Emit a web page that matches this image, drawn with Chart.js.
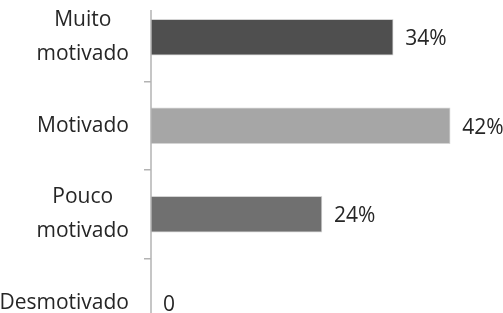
<!DOCTYPE html>
<html>
<head>
<meta charset="utf-8">
<script src="https://cdn.jsdelivr.net/npm/chart.js"></script>
<style>
  html, body { margin: 0; padding: 0; background: #fff; overflow: hidden; }
  body { width: 503px; height: 313px; position: relative; }
  #wrap { position: absolute; left: 0; top: -7px; width: 503px; height: 354px; }
</style>
</head>
<body>
<div id="wrap"><canvas id="chart"></canvas></div>
<script>
const categories = [['Muito', 'motivado'], ['Motivado'], ['Pouco', 'motivado'], ['Desmotivado']];
const values = [34, 42, 24, 0];
const valueLabels = ['34%', '42%', '24%', '0'];
const barColors = ['#4f4f4f', '#a6a6a6', '#707070', '#707070'];

const textColor = '#262626';
const axisColor = '#b3b3b3';
const fontFamily = "'Open Sans', 'Noto Sans', sans-serif";
const fontSize = 21;

// draws the category labels (multi-line ones centred on themselves) and the axis line
const labelsPlugin = {
    id: 'catLabels',
    afterDraw(chart) {
        const ctx = chart.ctx;
        const yScale = chart.scales.y;
        const area = chart.chartArea;
        ctx.save();
        ctx.strokeStyle = axisColor;
        ctx.lineWidth = 1.5;
        ctx.beginPath();
        ctx.moveTo(area.left, 17);
        ctx.lineTo(area.left, area.bottom);
        ctx.stroke();

        ctx.font = `${fontSize}px ${fontFamily}`;
        ctx.fillStyle = textColor;
        ctx.textAlign = 'center';
        ctx.textBaseline = 'middle';
        const right = area.left - 22;
        categories.forEach((lines, i) => {
            const cy = yScale.getPixelForValue(i);
            const maxW = Math.max(...lines.map(l => ctx.measureText(l).width));
            const cx = right - maxW / 2;
            lines.forEach((line, j) => {
                ctx.fillText(line, cx, cy + (j - (lines.length - 1) / 2) * 34);
            });
        });
        ctx.restore();
    }
};

const valuePlugin = {
    id: 'valueLabels',
    afterDatasetsDraw(chart) {
        const ctx = chart.ctx;
        const meta = chart.getDatasetMeta(0);
        ctx.save();
        ctx.font = `${fontSize}px ${fontFamily}`;
        ctx.fillStyle = textColor;
        ctx.textAlign = 'left';
        ctx.textBaseline = 'middle';
        meta.data.forEach((bar, i) => {
            ctx.fillText(valueLabels[i], bar.x + 12, bar.y + 2);
        });
        ctx.restore();
    }
};

new Chart(document.getElementById('chart'), {
    type: 'bar',
    data: {
        labels: categories.map(c => c.join(' ')),
        datasets: [{
            data: values,
            backgroundColor: barColors,
            borderColor: '#d4d4d4',
            borderWidth: 1,
            barThickness: 36
        }]
    },
    options: {
        indexAxis: 'y',
        responsive: true,
        maintainAspectRatio: false,
        animation: false,
        layout: { padding: { top: 0, bottom: 0, left: 0, right: 3 } },
        plugins: {
            legend: { display: false },
            tooltip: { enabled: false }
        },
        scales: {
            x: { display: false, min: 0, max: 49 },
            y: {
                border: { display: false },
                grid: {
                    drawOnChartArea: false,
                    drawTicks: true,
                    tickLength: 7,
                    color: axisColor,
                    lineWidth: 1.5
                },
                ticks: { display: false },
                afterFit(scale) { scale.width = 151; }
            }
        }
    },
    plugins: [labelsPlugin, valuePlugin]
});
</script>
</body>
</html>
